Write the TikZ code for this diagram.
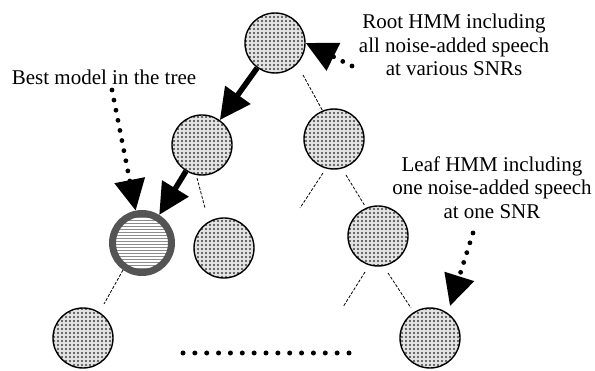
\documentclass[tikz,border=0pt]{standalone}
\usepackage{fontspec}
\setmainfont{Liberation Serif}
\usetikzlibrary{arrows.meta,patterns,calc}
\pgfdeclarepatternformonly{stipple}{\pgfqpoint{-1pt}{-1pt}}{\pgfqpoint{5pt}{5pt}}{\pgfqpoint{4pt}{4pt}}{\pgfpathcircle{\pgfqpoint{2pt}{2pt}}{1.1pt}\pgfusepath{fill}}
\begin{document}
\begin{tikzpicture}[x=1pt,y=-1pt,
  hmm/.style={circle,draw=black,line width=1.4pt,minimum size=60pt,inner sep=0pt,preaction={fill=gray!22},pattern=stipple,pattern color=black!75},
  bestm/.style={circle,draw=black!67,line width=7pt,minimum size=59pt,inner sep=0pt,preaction={fill=white},pattern=horizontal lines,pattern color=black!45},
  link/.style={line width=0.8pt,dash pattern=on 3pt off 1.6pt},
  bigarrow/.style={line width=5.5pt,-{Triangle[length=31pt,width=30pt]}},
  dotarrow/.style={line width=4.8pt,line cap=round,dash pattern=on 0pt off 10.3pt,-{Triangle[length=31pt,width=30pt]}},
  lbl/.style={font=\fontsize{21}{23.5}\selectfont,inner sep=0pt,align=center}
]
\useasboundingbox (0,0) rectangle (595,371);

% tree nodes
\node[hmm] (root) at (275,43) {};
\node[hmm] (lc) at (202,145) {};
\node[hmm] (rc) at (334,139) {};
\node[bestm] (best) at (142,243) {};
\node[hmm] (sib) at (224,248) {};
\node[hmm] (rm) at (378,236) {};
\node[hmm] (bl) at (83,338) {};
\node[hmm] (br) at (430,338) {};

% labels
\node[lbl] (rootlbl) at (454,45.3) {Root HMM including\\all noise-added speech\\at various SNRs};
\node[lbl] (leaflbl) at (492,187.6) {Leaf HMM including\\one noise-added speech\\at one SNR};
\node[lbl,anchor=base] (bestlbl) at (104,85) {Best model in the tree};

% free ends
\coordinate (lcR) at (205,208);
\coordinate (rcL) at (300,208);
\coordinate (rmL) at (343,307);
\coordinate (cS) at (112,90);
\coordinate (dS) at (352,66);
\coordinate (eS) at (473,233);

% thin dashed links
\draw[link] ($(root)+(28,32)$) -- (rc.112);
\draw[link] ($(lc)+(-5,33)$) -- (lcR);
\draw[link] ($(rc)+(-11,34)$) -- (rcL);
\draw[link] ($(rc)+(12,36)$) -- ($(rm)+(-13,-30)$);
\draw[link] ($(rm)+(-13,36)$) -- (rmL);
\draw[link] ($(rm)+(10,37)$) -- ($(br)+(-19,-30)$);
\draw[link] ($(best)+(-19,27)$) -- ($(bl)+(21,-34)$);

% thick arrows (search path)
\draw[bigarrow] (root) -- (lc);
\draw[bigarrow] (lc) -- (best);

% dotted pointer arrows
\draw[dotarrow] (cS) -- (best);
\draw[dotarrow] (dS) -- (root.east);
\draw[dotarrow] (eS) -- ($(br)+(20,-32)$);

% ellipsis
\foreach \i in {0,...,14} \fill (183+\i*11.857,353) circle (2.5);
\end{tikzpicture}
\end{document}
